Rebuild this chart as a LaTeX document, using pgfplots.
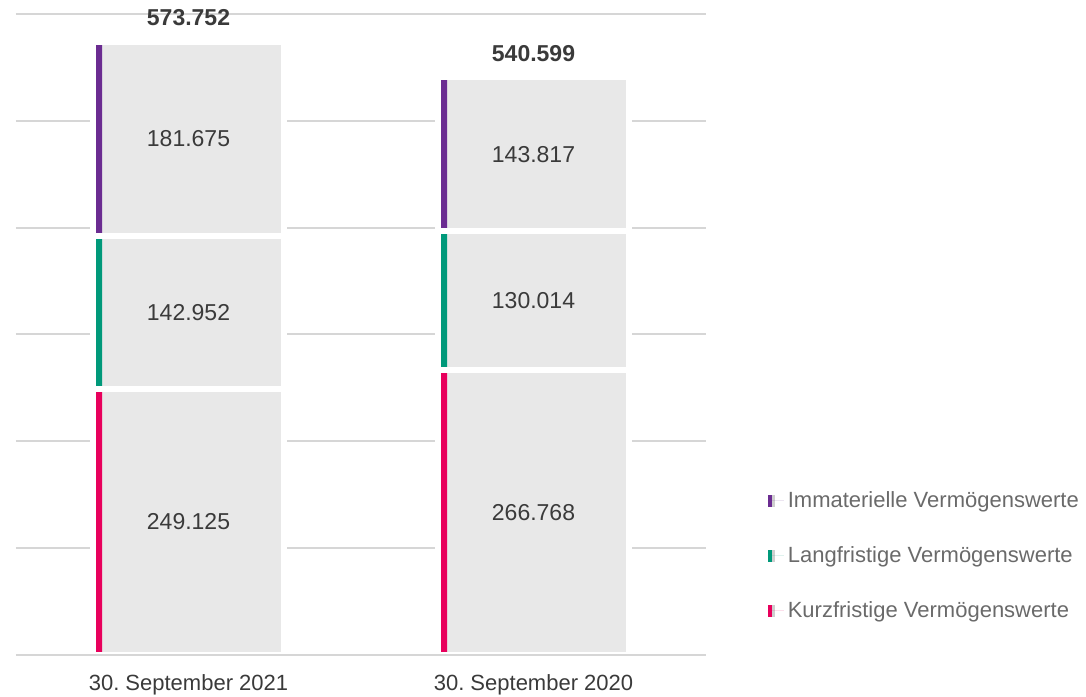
\documentclass[border=0pt]{standalone}
\usepackage{pgfplots}
\pgfplotsset{compat=1.18}
\usepackage{fontspec}
\setmainfont{Liberation Sans}

\definecolor{purp}{HTML}{6B2C91}
\definecolor{gruen}{HTML}{00997A}
\definecolor{pink}{HTML}{E8005C}
\definecolor{barfill}{HTML}{E8E8E8}
\definecolor{gridc}{HTML}{D6D6D6}
\definecolor{txt}{HTML}{3A3A3A}
\definecolor{legtxt}{HTML}{6A6A6A}

% values: bottom (kurzfristig), middle (langfristig), top (immateriell)
\pgfplotstableread{
x kurz lang imm
0 249.125 142.952 181.675
1 266.768 130.014 143.817
}\bilanz

\pgfplotsset{
  base/.style={scale only axis, width=345pt, height=320.5pt,
    xmin=-0.5, xmax=1.5, ymin=0, ymax=600, clip=false},
  overlay/.style={base, hide axis},
}

\begin{document}
\frenchspacing
\begin{tikzpicture}
\useasboundingbox (-8pt,-20.5pt) rectangle (535pt,327.5pt);

% grid and category labels
\begin{axis}[base,
  axis line style={draw=none}, tick style={draw=none},
  ytick={0,100,...,600}, yticklabels={},
  ymajorgrids, grid style={gridc, line width=1pt},
  xtick={0,1}, xticklabels={30. September 2021, 30. September 2020},
  xticklabel style={font=\fontsize{11}{13}\selectfont, text=txt, yshift=-6pt}]
\end{axis}

% gray segments with white gaps
\begin{axis}[overlay, ybar stacked, bar width=95.5pt]
\addplot[fill=barfill, draw=white, line width=3pt] table[x=x, y=kurz] {\bilanz};
\addplot[fill=barfill, draw=white, line width=3pt] table[x=x, y=lang] {\bilanz};
\addplot[fill=barfill, draw=white, line width=3pt] table[x=x, y=imm] {\bilanz};
\end{axis}

% coloured strips at the left edge
\begin{axis}[overlay, ybar stacked, bar width=3pt, bar shift=-44.75pt,
  reverse legend,
  legend style={at={(rel axis cs:1.089,0.262)}, anchor=north west,
    draw=none, fill=none, font=\fontsize{11}{13}\selectfont, text=legtxt,
    row sep=14pt, inner sep=0pt},
  legend cell align=left,
  legend image code/.code={
    \fill (0pt,-3pt) rectangle (2pt,3pt);
    \fill[barfill!80!black!70] (2pt,-3pt) rectangle (3.5pt,3pt);
    \path (0pt,0pt) -- (8pt,0pt);}]
\addplot[fill=pink, draw=none] table[x=x, y=kurz] {\bilanz};
\addlegendentry{Kurzfristige Vermögenswerte}
\addplot[fill=gruen, draw=none] table[x=x, y=lang] {\bilanz};
\addlegendentry{Langfristige Vermögenswerte}
\addplot[fill=purp, draw=none] table[x=x, y=imm] {\bilanz};
\addlegendentry{Immaterielle Vermögenswerte}
\end{axis}

% white gaps again over the strips
\begin{axis}[overlay, ybar stacked, bar width=95.5pt]
\addplot[fill=none, draw=white, line width=3pt] table[x=x, y=kurz] {\bilanz};
\addplot[fill=none, draw=white, line width=3pt] table[x=x, y=lang] {\bilanz};
\addplot[fill=none, draw=white, line width=3pt] table[x=x, y=imm] {\bilanz};
\end{axis}

% labels
\begin{axis}[overlay]
\addplot[only marks, mark=none, nodes near coords, point meta=explicit symbolic,
  every node near coord/.append style={anchor=center, text=txt,
    font=\fontsize{11.5}{13}\selectfont}]
  table[meta=lab] {
x y lab
0 124.5625 249.125
0 320.601 142.952
0 482.9145 181.675
1 133.384 266.768
1 331.775 130.014
1 468.6905 143.817
};
\addplot[only marks, mark=none, nodes near coords, point meta=explicit symbolic,
  every node near coord/.append style={anchor=center, text=txt, yshift=12pt,
    font=\bfseries\fontsize{11.5}{13}\selectfont}]
  table[meta=lab] {
x y lab
0 573.752 573.752
1 540.599 540.599
};
\end{axis}

\draw[gridc, line width=1pt] (0,0) -- (345pt,0);
\end{tikzpicture}
\end{document}
